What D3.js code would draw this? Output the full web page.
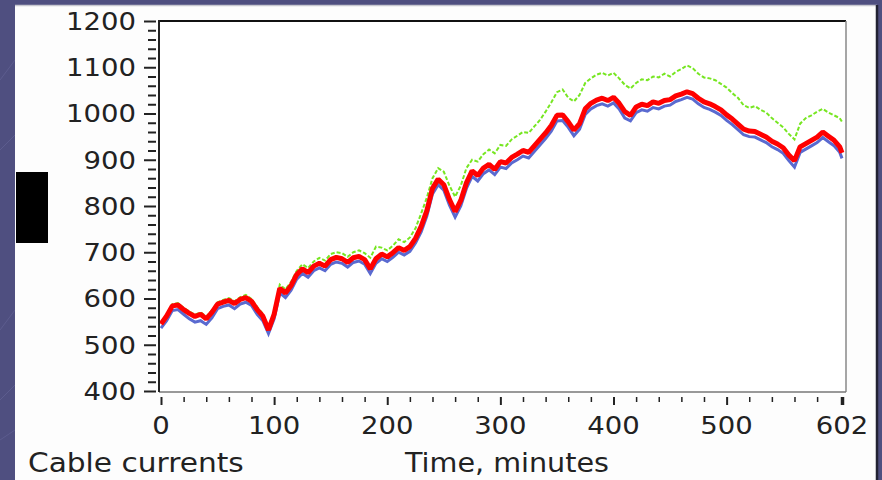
<!DOCTYPE html>
<html><head><meta charset="utf-8">
<script src="https://cdn.jsdelivr.net/npm/d3@7/dist/d3.min.js"></script>
<style>html,body{margin:0;padding:0;background:#4f4f80;}svg{display:block;}</style>
</head><body>
<svg id="c" width="882" height="480"></svg>
<script>
const times = [0,5,10,15,20,25,30,35,40,45,50,55,60,65,70,75,80,85,90,95,100,105,110,115,120,125,130,135,140,145,150,155,160,165,170,175,180,185,190,195,200,205,210,215,220,225,230,235,240,245,250,255,260,265,270,275,280,285,290,295,300,305,310,315,320,325,330,335,340,345,350,355,360,365,370,375,380,385,390,395,400,405,410,415,420,425,430,435,440,445,450,455,460,465,470,475,480,485,490,495,500,505,510,515,520,525,530,535,540,545,550,555,560,565,570,575,580,585,590,595,600,602];
const redSeries = [545,562,584,586,576,568,561,566,556,570,588,592,596,589,598,602,594,576,562,532,566,622,612,628,652,664,656,670,676,670,684,689,686,678,688,691,684,664,686,696,690,699,710,704,712,730,756,790,838,858,846,814,788,812,850,876,866,882,890,879,896,893,905,912,920,916,930,944,958,974,996,997,982,964,978,1010,1022,1029,1033,1028,1035,1022,1004,996,1014,1020,1017,1025,1022,1028,1030,1038,1042,1047,1043,1033,1025,1021,1015,1008,997,988,977,966,962,961,955,949,940,934,926,910,898,928,935,942,949,960,951,942,928,915];
const greenSeries = [549,566,588,590,580,572,565,570,561,575,592,597,601,594,603,608,599,582,567,538,572,630,620,636,660,674,666,680,688,682,696,700,698,690,700,704,698,688,712,710,704,714,728,722,732,752,784,818,860,882,874,844,820,844,882,900,896,912,922,914,932,930,944,952,960,958,972,986,1004,1024,1046,1052,1034,1026,1040,1066,1076,1084,1088,1082,1088,1076,1062,1054,1066,1074,1072,1080,1078,1086,1080,1090,1096,1104,1098,1086,1078,1076,1072,1064,1056,1044,1034,1018,1012,1016,1008,1002,990,980,970,956,944,978,990,996,1004,1010,1002,996,990,982];
const blueSeries = [536,552,574,576,566,556,549,552,544,558,578,583,586,578,588,592,585,566,552,524,556,612,602,618,642,654,646,660,666,660,674,679,676,668,678,681,674,654,676,686,680,689,700,694,702,720,744,778,826,846,834,802,776,800,838,864,854,870,878,868,884,881,893,900,908,904,918,932,946,962,984,985,970,952,966,998,1010,1017,1021,1016,1023,1010,990,984,1002,1008,1005,1013,1010,1016,1018,1026,1030,1035,1031,1021,1013,1009,1003,996,985,976,965,954,950,949,943,937,928,922,914,898,884,916,923,930,937,948,939,930,916,903];
const xTickLabels = [0,100,200,300,400,500,602];
const yTickLabels = [400,500,600,700,800,900,1000,1100,1200];
const yAxisTitle = "Cable currents";
const xAxisTitle = "Time, minutes";

const svg = d3.select("#c");
// slide background
svg.append("rect").attr("width",882).attr("height",480).attr("fill","#4f4f80");
const deco = svg.append("g").attr("stroke","#6a6a9c").attr("stroke-opacity",0.5).attr("fill","none");
[[0,80,15,60],[0,150,15,135],[0,330,15,310],[0,400,15,385],[0,440,15,430]].forEach(d=>{
  deco.append("line").attr("x1",d[0]).attr("y1",d[1]).attr("x2",d[2]).attr("y2",d[3]);
});
// white panel
svg.append("rect").attr("x",15).attr("y",5).attr("width",862).attr("height",480).attr("fill","#fdfdfd");
svg.append("line").attr("x1",15).attr("x2",877).attr("y1",5.5).attr("y2",5.5).attr("stroke","#c8c8d0").attr("stroke-width",1.5);
svg.append("line").attr("x1",877).attr("x2",877).attr("y1",5).attr("y2",480).attr("stroke","#222233").attr("stroke-width",2.5);
// black block
svg.append("rect").attr("x",16).attr("y",172).attr("width",32).attr("height",71).attr("fill","#000");

const x = d3.scaleLinear().domain([0,602]).range([161,842]);
const y = d3.scaleLinear().domain([400,1200]).range([391,21]);

// plot area
svg.append("rect").attr("x",159).attr("y",21).attr("width",687).attr("height",371).attr("fill","#fff");

const font = "'DejaVu Sans', Verdana, sans-serif";

// series
const mk = arr => d3.line().x((d,i)=>x(times[i])).y(d=>y(d))(arr);
svg.append("path").attr("d",mk(greenSeries)).attr("fill","none").attr("stroke","#77e622").attr("stroke-width",2).attr("stroke-dasharray","4,2");
svg.append("path").attr("d",mk(blueSeries)).attr("fill","none").attr("stroke","#5a6ad0").attr("stroke-width",3);
svg.append("path").attr("d",mk(redSeries)).attr("fill","none").attr("stroke","#ff0000").attr("stroke-width",5).attr("stroke-linejoin","bevel");

// borders
svg.append("line").attr("x1",159).attr("x2",846).attr("y1",21).attr("y2",21).attr("stroke","#111").attr("stroke-width",2);
svg.append("line").attr("x1",846).attr("x2",846).attr("y1",21).attr("y2",392).attr("stroke","#888").attr("stroke-width",1.5);
svg.append("line").attr("x1",159).attr("x2",846).attr("y1",392).attr("y2",392).attr("stroke","#777").attr("stroke-width",1.5);
svg.append("line").attr("x1",159).attr("x2",159).attr("y1",20).attr("y2",392).attr("stroke","#222").attr("stroke-width",2);

// y axis ticks via d3 axis
const yMinor = d3.range(400,1201,20);
const yAx = svg.append("g").attr("transform","translate(156,0)")
  .call(d3.axisLeft(y).tickValues(yMinor).tickSize(8).tickFormat(""));
yAx.select(".domain").remove();
yAx.selectAll(".tick line").attr("stroke","#222").attr("stroke-width",2);
yAx.selectAll(".tick").filter(d=>d%100===0).select("line").attr("x2",-12);
svg.append("g").selectAll("text").data(yTickLabels).join("text")
  .attr("x",136).attr("y",d=>y(d)).attr("dy","0.36em").attr("text-anchor","end")
  .attr("font-family",font).attr("font-size",25).attr("fill","#222")
  .attr("transform",d=>`translate(136,0) scale(1.1,1) translate(-136,0)`)
  .text(d=>d);

// x axis ticks
const xMinor = d3.range(0,600,20).concat([602]);
const xAx = svg.append("g").attr("transform","translate(0,397)")
  .call(d3.axisBottom(x).tickValues(xMinor).tickSize(5).tickFormat(""));
xAx.select(".domain").remove();
xAx.selectAll(".tick line").attr("stroke","#222").attr("stroke-width",1.5);
xAx.selectAll(".tick").filter(d=>xTickLabels.includes(d)).select("line").attr("y2",8).attr("stroke-width",2);
xAx.selectAll(".tick").filter(d=>d===602).select("line").attr("stroke-width",3.5);
svg.append("g").selectAll("text").data(xTickLabels).join("text")
  .attr("x",d=>x(d)).attr("y",434).attr("text-anchor","middle")
  .attr("font-family",font).attr("font-size",25).attr("fill","#222")
  .attr("transform",d=>`translate(${x(d)},0) scale(1.1,1) translate(${-x(d)},0)`)
  .text(d=>d);

// titles
svg.append("text").attr("x",28).attr("y",472).attr("font-family",font).attr("font-size",26).attr("fill","#222")
  .attr("transform","translate(28,0) scale(1.14,1) translate(-28,0)").text(yAxisTitle);
svg.append("text").attr("x",405).attr("y",472).attr("font-family",font).attr("font-size",26).attr("fill","#222")
  .attr("transform","translate(405,0) scale(1.1,1) translate(-405,0)").text(xAxisTitle);
</script>
</body></html>
